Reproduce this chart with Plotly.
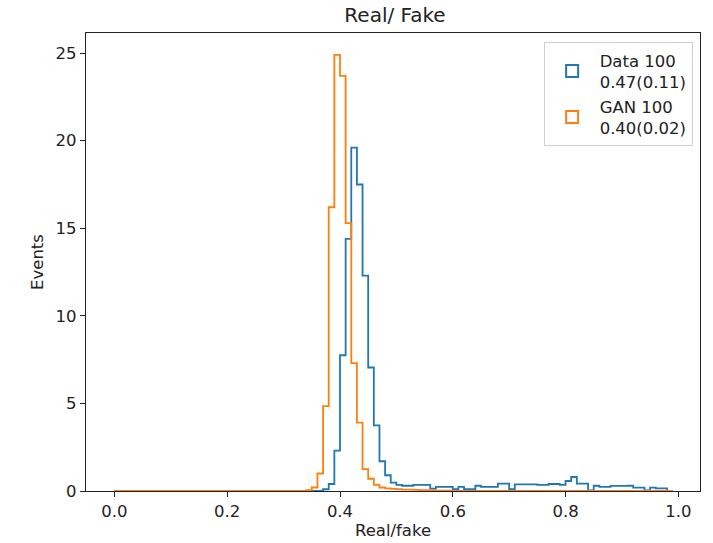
import plotly.graph_objects as go

# Bin edges: 0.00 .. 0.99 in steps of 0.01 (99 bins)
bin_edges = [round(i * 0.01, 2) for i in range(100)]

# Histogram heights (Events) per bin
data_counts = [
    0, 0, 0, 0, 0, 0, 0, 0, 0, 0,
    0, 0, 0, 0, 0, 0, 0, 0, 0, 0,
    0, 0, 0, 0, 0, 0, 0, 0, 0, 0,
    0, 0, 0, 0, 0, 0, 0, 0.1, 0.4, 2.3,
    7.75, 14.4, 19.6, 17.5, 12.3, 7.05, 3.75, 1.7, 0.9, 0.48,
    0.35, 0.3, 0.3, 0.35, 0.35, 0.35, 0.13, 0.23, 0.23, 0.23,
    0.1, 0.23, 0.1, 0.1, 0.3, 0.23, 0.23, 0.23, 0.42, 0.42,
    0.1, 0.38, 0.38, 0.38, 0.38, 0.35, 0.35, 0.4, 0.4, 0.35,
    0.57, 0.8, 0.42, 0.42, 0.04, 0.3, 0.23, 0.23, 0.29, 0.29,
    0.29, 0.3, 0.19, 0.19, 0.04, 0.19, 0.15, 0.15, 0,
]
gan_counts = [
    0, 0, 0, 0, 0, 0, 0, 0, 0, 0,
    0, 0, 0, 0, 0, 0, 0, 0, 0, 0,
    0, 0, 0, 0, 0, 0, 0, 0, 0, 0,
    0, 0, 0, 0, 0.05, 0.2, 1.0, 4.85, 16.2, 24.9,
    23.7, 15.3, 7.3, 3.9, 1.25, 0.7, 0.35, 0.2, 0.15, 0.12,
    0.1, 0.08, 0.08, 0.06, 0.05, 0.05, 0.04, 0.02, 0.02, 0.02,
    0, 0, 0, 0, 0, 0, 0, 0, 0, 0,
    0, 0, 0, 0, 0, 0, 0, 0, 0, 0,
    0, 0, 0, 0, 0, 0, 0, 0, 0, 0,
    0, 0, 0, 0, 0, 0, 0, 0, 0,
]

series_names = ["Data 100<br>0.47(0.11)", "GAN 100<br>0.40(0.02)"]
series_colors = ["#1f77b4", "#ff7f0e"]

x_ticks = [0.0, 0.2, 0.4, 0.6, 0.8, 1.0]
y_ticks = [0, 5, 10, 15, 20, 25]


def step_outline(edges, counts):
    xs = [edges[0]] + list(edges)
    ys = [0] + list(counts) + [0]
    return xs, ys


fig = go.Figure()
for counts, name, color in zip([data_counts, gan_counts], series_names, series_colors):
    xs, ys = step_outline(bin_edges, counts)
    fig.add_trace(go.Scatter(
        x=xs, y=ys, mode="lines", name=name, showlegend=False,
        line=dict(color=color, width=1.8, shape="hv"),
        cliponaxis=False,
    ))
    # legend entry drawn as an outlined rectangle (like a matplotlib step patch)
    fig.add_trace(go.Bar(
        x=[None], y=[None], name=name,
        marker=dict(color="rgba(255,255,255,0)", line=dict(color=color, width=2)),
    ))

font_family = "DejaVu Sans, Liberation Sans, sans-serif"
axis_common = dict(
    showline=True, linecolor="#222", linewidth=1.3, mirror=True,
    ticks="outside", ticklen=5, tickwidth=1.2, tickcolor="#222",
    showgrid=False, zeroline=False, automargin=False,
    tickfont=dict(size=16.5, color="#222", family=font_family),
)

fig.update_layout(
    width=713, height=543,
    margin=dict(l=86, r=13, t=33, b=52),
    paper_bgcolor="white", plot_bgcolor="white",
    font=dict(family=font_family, size=16.5, color="#222"),
    title=dict(text="Real/ Fake", x=0.554, xanchor="center", y=0.972, yanchor="middle",
               font=dict(size=20, color="#222", family=font_family)),
    xaxis=dict(range=[-0.0505, 1.0385], tickvals=x_ticks, tickformat=".1f",
               title=dict(text="Real/fake", font=dict(size=16.5), standoff=4), **axis_common),
    yaxis=dict(range=[0, 26.15], tickvals=y_ticks,
               title=dict(text="Events", font=dict(size=16.5), standoff=7), **axis_common),
    legend=dict(x=0.988, y=0.98, xanchor="right", yanchor="top",
                bgcolor="white", bordercolor="#d0d0d0", borderwidth=1,
                font=dict(size=16.5, color="#222", family=font_family),
                itemwidth=45, tracegroupgap=0),
    showlegend=True,
)

fig.write_html("out.html", config={"displayModeBar": False},
               post_script="document.body.style.margin='0';")
